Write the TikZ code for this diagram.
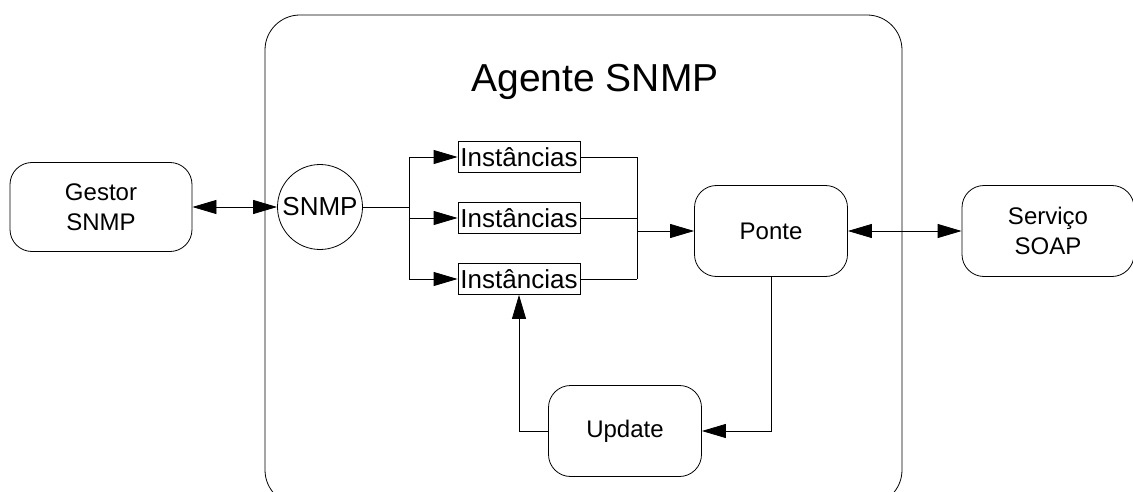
\documentclass[tikz,border=0pt]{standalone}
\usepackage{fontspec}
\setmainfont{Liberation Sans}
\usetikzlibrary{arrows.meta}

\begin{document}
\begin{tikzpicture}[x=1pt, y=-1pt,
    caixa/.style={rounded corners=22pt, draw, thick, minimum width=153pt, minimum height=91pt, align=center, font=\fontsize{24}{30}\selectfont},
    inst/.style={rectangle, draw, thick, minimum width=122pt, minimum height=31pt, inner sep=0pt, font=\fontsize{26}{28}\selectfont},
    seta/.style={thick, -{Triangle[length=24pt, width=14pt]}},
    dupla/.style={thick, {Triangle[length=24pt, width=14pt]}-{Triangle[length=24pt, width=14pt]}}]

    \useasboundingbox (0,0) rectangle (1133,492);
    \clip (0,0) rectangle (1133,492);

    % Agente SNMP
    \draw[thick, rounded corners=35pt] (265,15) rectangle (902,505);
    \node[font=\fontsize{39}{44}\selectfont] (titulo) at (595,82) {Agente SNMP};

    % Gestor e servico
    \node[caixa, minimum width=182pt, minimum height=89pt] (gestor) at (101,207) {Gestor\\SNMP};
    \node[caixa, minimum width=172pt] (servico) at (1048,231) {Serviço\\SOAP};

    % Nodos dentro do agente
    \node[circle, draw, thick, minimum size=85pt, inner sep=0pt, font=\fontsize{26}{28}\selectfont] (snmp) at (320,207) {SNMP};
    \node[inst] (i1) at (519,157) {Instâncias};
    \node[inst] (i2) at (519,218) {Instâncias};
    \node[inst] (i3) at (519,279) {Instâncias};
    \node[caixa] (ponte) at (771,231) {Ponte};
    \node[caixa] (update) at (625,431) {Update};

    \coordinate (fork) at (409,207);
    \coordinate (join) at (637,231);

    % Setas
    \draw[dupla] (gestor) -- (snmp);
    \draw[thick] (snmp) -- (fork);
    \draw[thick] (fork |- i1) -- (fork |- i3);
    \foreach \i in {1,2,3} {
        \draw[seta] (fork |- i\i) -- (i\i);
        \draw[thick] (i\i) -- (join |- i\i);
    }
    \draw[thick] (join |- i1) -- (join |- i3);
    \draw[seta] (join) -- (ponte);
    \draw[dupla] (ponte) -- (servico);

    % Ciclo de actualizacao
    \draw[seta] (ponte.south) |- (update.east);
    \draw[seta] (update.west) -| (i3.south);

\end{tikzpicture}
\end{document}
